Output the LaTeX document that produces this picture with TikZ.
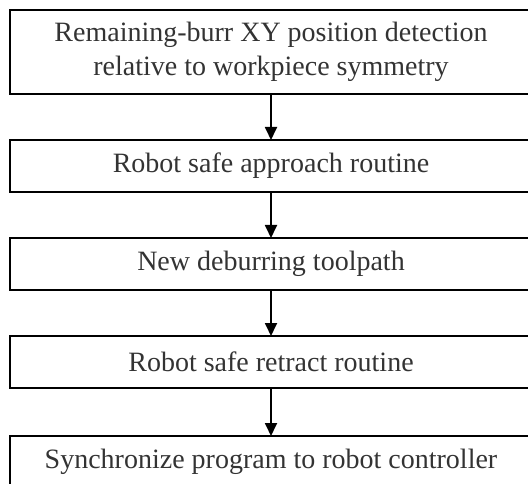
\documentclass[tikz,border=0pt]{standalone}
\usepackage{fontspec}
\setmainfont{Liberation Serif}
\usetikzlibrary{positioning,arrows.meta}
\begin{document}
\begin{tikzpicture}[
			x=1pt,y=1pt,
			node distance=46pt,
			stepbox/.style={draw,line width=1.8pt,minimum width=522pt,minimum height=52pt,
				outer sep=0pt,align=center,inner sep=0pt,font=\fontsize{28}{34}\selectfont,text=black!80},
			flow/.style={-{Triangle[width=12pt,length=13pt]},line width=1.8pt}
		]
		\useasboundingbox (0,0) rectangle (528,-484);
		\node[stepbox,minimum height=84pt,anchor=north west] (detect) at (10,-10)
			{Remaining-burr XY position detection\\relative to workpiece symmetry};
		\node[stepbox,below=46pt of detect] (approach) {Robot safe approach routine};
		\node[stepbox,below=46pt of approach] (toolpath) {New deburring toolpath};
		\node[stepbox,below=46pt of toolpath] (retract) {Robot safe retract routine};
		\node[stepbox,below=48pt of retract] (sync) {Synchronize program to robot controller};
		\draw[flow] (detect) -- (approach);
		\draw[flow] (approach) -- (toolpath);
		\draw[flow] (toolpath) -- (retract);
		\draw[flow] (retract) -- (sync);
	\end{tikzpicture}
\end{document}
